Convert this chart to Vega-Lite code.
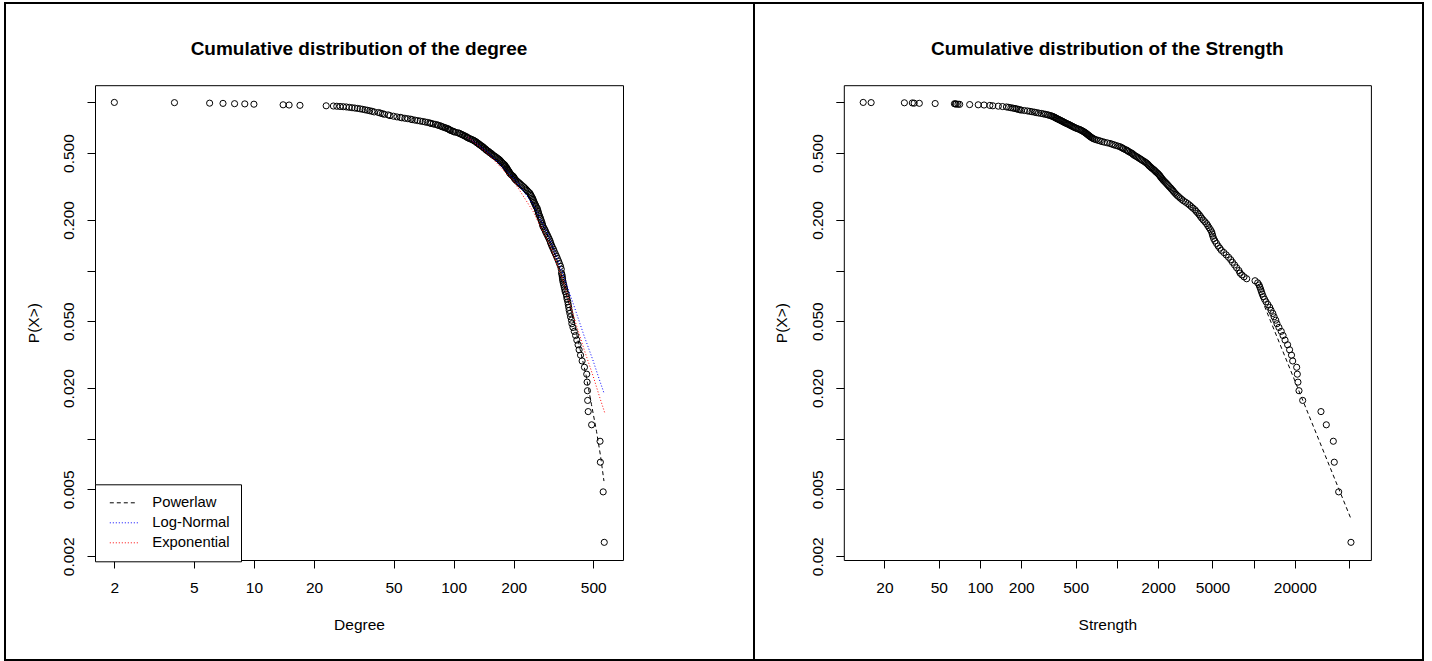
{
  "$schema": "https://vega.github.io/schema/vega-lite/v6.json",
  "background": "white",
  "padding": {"left": 4, "top": 2, "right": 0, "bottom": 0},
  "spacing": 0,
  "bounds": "flush",
  "config": {
    "view": {"stroke": "#000", "strokeWidth": 2},
    "font": "Liberation Sans",
    "axis": {
      "grid": false, "domainColor": "#000", "domainWidth": 1, "tickColor": "#000", "tickWidth": 1, "tickSize": 8,
      "labelColor": "#000", "labelFont": "Liberation Sans", "labelFontSize": 15.5, "titleFont": "Liberation Sans", "titleFontSize": 15.5,
      "titleFontWeight": "normal", "titleColor": "#000", "labelOverlap": false, "labelFlush": false, "labelBound": false
    }
  },
  "hconcat": [
    {
      "width": 749, "height": 657,
      "title": {"text": "Cumulative distribution of the degree", "fontSize": 19, "fontWeight": "bold", "font": "Liberation Sans", "color": "#000", "anchor": "middle", "frame": "group", "baseline": "alphabetic", "offset": -71, "dx": -20.5},
      "resolve": {"axis": {"x": "independent", "y": "independent"}},
      "layer": [
        {
          "data": {"values": [
            {"x":2,"p":1},{"x":4,"p":0.997},{"x":6,"p":0.99},{"x":7,"p":0.987},{"x":8,"p":0.983},{"x":9,"p":0.98},{"x":10,"p":0.976},{"x":14,"p":0.968},{"x":15,"p":0.965},{"x":17,"p":0.961},{"x":23,"p":0.955},
            {"x":25,"p":0.952},{"x":26,"p":0.949},{"x":27,"p":0.946},{"x":28,"p":0.943},{"x":29,"p":0.94},{"x":30,"p":0.935},{"x":31,"p":0.93},{"x":32,"p":0.926},{"x":33,"p":0.921},{"x":34,"p":0.916},{"x":35,"p":0.91},{"x":36,"p":0.904},{"x":37,"p":0.898},{"x":38,"p":0.892},{"x":39,"p":0.886},{"x":40,"p":0.878},{"x":42,"p":0.871},{"x":43,"p":0.864},{"x":44,"p":0.857},{"x":45,"p":0.85},{"x":47,"p":0.843},{"x":48,"p":0.835},{"x":50,"p":0.828},{"x":52,"p":0.82},
            {"x":54,"p":0.815},{"x":55,"p":0.81},{"x":57,"p":0.805},{"x":59,"p":0.8},{"x":61,"p":0.795},{"x":62,"p":0.79},{"x":64,"p":0.785},{"x":66,"p":0.78},{"x":68,"p":0.775},{"x":70,"p":0.77},{"x":72,"p":0.765},{"x":74,"p":0.76},{"x":76,"p":0.755},{"x":77,"p":0.75},{"x":79,"p":0.745},{"x":81,"p":0.74},{"x":83,"p":0.735},{"x":84,"p":0.73},{"x":86,"p":0.725},{"x":87,"p":0.72},{"x":88,"p":0.715},{"x":90,"p":0.71},{"x":91,"p":0.705},{"x":93,"p":0.7},{"x":94,"p":0.695},{"x":95,"p":0.69},{"x":96,"p":0.685},{"x":97,"p":0.68},{"x":99,"p":0.675},{"x":100,"p":0.67},
            {"x":102,"p":0.665},{"x":105,"p":0.66},{"x":107,"p":0.655},{"x":108,"p":0.65},{"x":110,"p":0.645},{"x":111,"p":0.64},{"x":113,"p":0.635},{"x":114,"p":0.63},{"x":116,"p":0.625},{"x":117,"p":0.62},{"x":118,"p":0.615},{"x":120,"p":0.61},{"x":122,"p":0.605},{"x":124,"p":0.6},{"x":126,"p":0.595},{"x":127,"p":0.59},{"x":129,"p":0.585},{"x":130,"p":0.58},{"x":131,"p":0.575},{"x":133,"p":0.57},{"x":134,"p":0.565},{"x":135,"p":0.56},{"x":137,"p":0.555},{"x":138,"p":0.55},{"x":140,"p":0.545},{"x":141,"p":0.54},{"x":142,"p":0.535},{"x":144,"p":0.53},{"x":145,"p":0.525},{"x":146,"p":0.52},{"x":148,"p":0.515},{"x":150,"p":0.51},{"x":151,"p":0.505},{"x":153,"p":0.5},{"x":155,"p":0.495},{"x":156,"p":0.49},{"x":158,"p":0.485},{"x":160,"p":0.48},{"x":162,"p":0.475},{"x":164,"p":0.47},{"x":166,"p":0.465},{"x":168,"p":0.46},{"x":170,"p":0.455},{"x":171,"p":0.45},{"x":173,"p":0.445},{"x":174,"p":0.44},{"x":176,"p":0.435},{"x":178,"p":0.43},{"x":180,"p":0.425},{"x":181,"p":0.42},{"x":182,"p":0.415},{"x":184,"p":0.41},{"x":185,"p":0.405},{"x":186,"p":0.4},{"x":187,"p":0.395},{"x":189,"p":0.39},{"x":190,"p":0.385},{"x":191,"p":0.38},{"x":193,"p":0.375},{"x":195,"p":0.37},{"x":198,"p":0.365},{"x":200,"p":0.36},{"x":201,"p":0.355},{"x":203,"p":0.35},
            {"x":205,"p":0.345},{"x":208,"p":0.34},{"x":211,"p":0.335},{"x":214,"p":0.33},{"x":217,"p":0.325},{"x":220,"p":0.32},{"x":224,"p":0.315},{"x":227,"p":0.31},{"x":230,"p":0.305},{"x":233,"p":0.3},{"x":236,"p":0.295},{"x":240,"p":0.29},{"x":242,"p":0.285},{"x":244,"p":0.28},{"x":246,"p":0.275},{"x":248,"p":0.27},{"x":250,"p":0.265},{"x":251,"p":0.26},{"x":253,"p":0.255},{"x":255,"p":0.25},{"x":257,"p":0.245},{"x":259,"p":0.24},{"x":262,"p":0.235},{"x":263,"p":0.23},{"x":265,"p":0.225},{"x":266,"p":0.22},{"x":268,"p":0.215},{"x":270,"p":0.21},{"x":272,"p":0.205},{"x":274,"p":0.2},{"x":276,"p":0.195},{"x":278,"p":0.19},{"x":279,"p":0.186},{"x":281,"p":0.182},{"x":284,"p":0.178},{"x":287,"p":0.174},{"x":289,"p":0.17},{"x":292,"p":0.166},{"x":295,"p":0.162},{"x":298,"p":0.158},{"x":301,"p":0.154},{"x":304,"p":0.15},{"x":306,"p":0.146},{"x":309,"p":0.142},{"x":312,"p":0.138},{"x":316,"p":0.134},{"x":319,"p":0.13},{"x":323,"p":0.126},{"x":327,"p":0.122},{"x":331,"p":0.118},{"x":335,"p":0.114},{"x":339,"p":0.11},{"x":343,"p":0.106},{"x":346,"p":0.102},
            {"x":347,"p":0.0966},{"x":349,"p":0.0942},{"x":350,"p":0.0918},{"x":351,"p":0.0894},{"x":352,"p":0.087},{"x":354,"p":0.0845},{"x":356,"p":0.0821},{"x":358,"p":0.0797},{"x":360,"p":0.0773},{"x":362,"p":0.0749},{"x":366,"p":0.0725},{"x":368,"p":0.07},{"x":370,"p":0.0676},{"x":373,"p":0.0652},{"x":375,"p":0.0628},{"x":377,"p":0.0604},{"x":379,"p":0.058},{"x":382,"p":0.0556},{"x":385,"p":0.0531},{"x":389,"p":0.0507},{"x":391,"p":0.0483},{"x":396,"p":0.0459},{"x":402,"p":0.0435},{"x":408,"p":0.0411},{"x":414,"p":0.0386},{"x":420,"p":0.0362},{"x":425,"p":0.0338},{"x":432,"p":0.0314},{"x":440,"p":0.029},{"x":452,"p":0.0266},{"x":464,"p":0.0242},{"x":466,"p":0.0217},{"x":468,"p":0.0193},{"x":469,"p":0.0169},{"x":472,"p":0.0145},{"x":491,"p":0.0121},{"x":541,"p":0.00966},{"x":543,"p":0.00725},{"x":561,"p":0.00483},{"x":568,"p":0.00242}
          ]},
          "mark": {"type": "point", "shape": "circle", "filled": false, "stroke": "#000", "strokeWidth": 1, "size": 38, "opacity": 1},
          "encoding": {
            "x": {"field": "x", "type": "quantitative",
              "scale": {"type": "log", "domain": [1.6, 705], "range": [90, 618], "nice": false, "zero": false},
              "axis": {"orient": "bottom", "offset": -100, "values": [2,5,10,20,50,100,200,500], "format": "d", "labelPadding": 12, "labelBaseline": "top", "title": "Degree", "titleY": 69, "titleBaseline": "alphabetic"}},
            "y": {"field": "p", "type": "quantitative",
              "scale": {"type": "log", "domain": [0.0019, 1.266], "range": [557, 82.2], "nice": false, "zero": false},
              "axis": {"orient": "left", "offset": -90, "values": [1,0.5,0.2,0.1,0.05,0.02,0.01,0.005,0.002],
                "labelExpr": "datum.value == 1 || datum.value == 0.1 || datum.value == 0.01 ? '' : format(datum.value, '.3f')",
                "labelAngle": 270, "labelAlign": "center", "labelBaseline": "alphabetic", "labelPadding": 13.5,
                "title": "P(X>)", "titleX": -57, "titleBaseline": "alphabetic", "titleAngle": 270, "titleAlign": "center"}}
          }
        },
        {
          "data": {"values": [
            {"model":"Powerlaw","x":118,"p":0.62},{"model":"Powerlaw","x":150,"p":0.5},{"model":"Powerlaw","x":200,"p":0.355},{"model":"Powerlaw","x":250,"p":0.25},{"model":"Powerlaw","x":300,"p":0.155},{"model":"Powerlaw","x":330,"p":0.115},{"model":"Powerlaw","x":350,"p":0.09},{"model":"Powerlaw","x":380,"p":0.062},{"model":"Powerlaw","x":400,"p":0.05},{"model":"Powerlaw","x":430,"p":0.034},{"model":"Powerlaw","x":460,"p":0.024},{"model":"Powerlaw","x":490,"p":0.016},{"model":"Powerlaw","x":520,"p":0.011},{"model":"Powerlaw","x":545,"p":0.0078},{"model":"Powerlaw","x":566,"p":0.0056},
            {"model":"Log-Normal","x":118,"p":0.62},{"model":"Log-Normal","x":150,"p":0.5},{"model":"Log-Normal","x":200,"p":0.355},{"model":"Log-Normal","x":250,"p":0.248},{"model":"Log-Normal","x":300,"p":0.16},{"model":"Log-Normal","x":350,"p":0.098},{"model":"Log-Normal","x":400,"p":0.062},{"model":"Log-Normal","x":450,"p":0.041},{"model":"Log-Normal","x":500,"p":0.029},{"model":"Log-Normal","x":540,"p":0.022},{"model":"Log-Normal","x":568,"p":0.0185},
            {"model":"Exponential","x":118,"p":0.62},{"model":"Exponential","x":150,"p":0.49},{"model":"Exponential","x":200,"p":0.34},{"model":"Exponential","x":250,"p":0.225},{"model":"Exponential","x":300,"p":0.145},{"model":"Exponential","x":350,"p":0.09},{"model":"Exponential","x":400,"p":0.053},{"model":"Exponential","x":450,"p":0.034},{"model":"Exponential","x":500,"p":0.0235},{"model":"Exponential","x":540,"p":0.0175},{"model":"Exponential","x":573,"p":0.0141}
          ]},
          "mark": {"type": "line", "strokeWidth": 1},
          "encoding": {
            "x": {"field": "x", "type": "quantitative", "axis": {"orient": "top", "offset": -82.2, "ticks": false, "labels": false, "title": null, "grid": false}},
            "y": {"field": "p", "type": "quantitative", "axis": {"orient": "right", "offset": -131, "ticks": false, "labels": false, "title": null, "grid": false}},
            "color": {"field": "model", "type": "nominal",
              "scale": {"domain": ["Powerlaw","Log-Normal","Exponential"], "range": ["#000000","#0000ff","#ff0000"]},
              "legend": {"title": null, "orient": "none", "legendX": 90, "legendY": 481.3, "padding": 11, "strokeColor": "#000", "fillColor": "#fff", "cornerRadius": 0,
                "symbolType": "M-2,0H2", "symbolSize": 196, "symbolStrokeWidth": 1, "symbolOffset": 10.3, "labelFont": "Liberation Sans", "labelFontSize": 14.8, "labelColor": "#000", "labelOffset": 21, "rowPadding": 4}},
            "strokeDash": {"field": "model", "type": "nominal",
              "scale": {"domain": ["Powerlaw","Log-Normal","Exponential"], "range": [[4,3],[1,2],[1,2]]},
              "legend": {"title": null, "orient": "none", "legendX": 90, "legendY": 481.3, "padding": 11, "strokeColor": "#000", "fillColor": "#fff", "cornerRadius": 0,
                "symbolType": "M-2,0H2", "symbolSize": 196, "symbolStrokeWidth": 1, "symbolOffset": 10.3, "labelFont": "Liberation Sans", "labelFontSize": 14.8, "labelColor": "#000", "labelOffset": 21, "rowPadding": 4}}
          }
        }
      ]
    },
    {
      "width": 669, "height": 657,
      "title": {"text": "Cumulative distribution of the Strength", "fontSize": 19, "fontWeight": "bold", "font": "Liberation Sans", "color": "#000", "anchor": "middle", "frame": "group", "baseline": "alphabetic", "offset": -71, "dx": 18.85},
      "resolve": {"axis": {"x": "independent", "y": "independent"}},
      "layer": [
        {
          "data": {"values": [
            {"x":14,"p":1},{"x":16,"p":0.9976},{"x":28,"p":0.995},{"x":32,"p":0.993},{"x":33,"p":0.99},{"x":36,"p":0.988},{"x":47,"p":0.985},{"x":65,"p":0.982},{"x":66,"p":0.98},{"x":67,"p":0.978},{"x":69,"p":0.976},{"x":71,"p":0.974},{"x":84,"p":0.971},{"x":97,"p":0.968},{"x":107,"p":0.965},{"x":118,"p":0.96},{"x":124,"p":0.955},{"x":136,"p":0.95},{"x":146,"p":0.945},{"x":156,"p":0.94},{"x":162,"p":0.935},{"x":168,"p":0.93},{"x":174,"p":0.925},{"x":180,"p":0.92},{"x":185,"p":0.915},{"x":190,"p":0.91},{"x":195,"p":0.905},{"x":200,"p":0.9},
            {"x":211,"p":0.895},{"x":222,"p":0.89},{"x":231,"p":0.885},{"x":240,"p":0.88},{"x":250,"p":0.875},{"x":258,"p":0.87},{"x":268,"p":0.865},{"x":280,"p":0.86},{"x":290,"p":0.855},{"x":300,"p":0.85},{"x":310,"p":0.845},{"x":318,"p":0.84},{"x":327,"p":0.835},{"x":334,"p":0.83},{"x":340,"p":0.825},{"x":346,"p":0.82},{"x":351,"p":0.815},{"x":356,"p":0.81},{"x":361,"p":0.805},{"x":366,"p":0.8},{"x":372,"p":0.795},{"x":378,"p":0.79},{"x":384,"p":0.785},{"x":390,"p":0.78},{"x":396,"p":0.775},{"x":402,"p":0.77},{"x":408,"p":0.765},{"x":414,"p":0.76},{"x":421,"p":0.755},{"x":428,"p":0.75},{"x":436,"p":0.745},{"x":444,"p":0.74},{"x":452,"p":0.735},{"x":458,"p":0.73},{"x":466,"p":0.725},{"x":474,"p":0.72},{"x":482,"p":0.715},{"x":490,"p":0.71},{"x":500,"p":0.705},{"x":510,"p":0.7},{"x":522,"p":0.695},{"x":535,"p":0.69},{"x":545,"p":0.685},{"x":553,"p":0.68},{"x":563,"p":0.675},{"x":572,"p":0.67},{"x":580,"p":0.665},{"x":588,"p":0.66},{"x":596,"p":0.655},{"x":603,"p":0.65},{"x":610,"p":0.645},{"x":617,"p":0.64},{"x":625,"p":0.635},{"x":632,"p":0.63},{"x":640,"p":0.625},{"x":650,"p":0.62},{"x":660,"p":0.615},{"x":670,"p":0.61},{"x":685,"p":0.605},{"x":705,"p":0.6},{"x":730,"p":0.595},{"x":755,"p":0.59},{"x":780,"p":0.585},{"x":810,"p":0.58},{"x":850,"p":0.575},{"x":890,"p":0.57},{"x":920,"p":0.565},{"x":950,"p":0.56},{"x":980,"p":0.555},{"x":1020,"p":0.55},{"x":1054,"p":0.545},{"x":1080,"p":0.54},{"x":1100,"p":0.535},{"x":1120,"p":0.53},{"x":1150,"p":0.525},{"x":1180,"p":0.52},{"x":1200,"p":0.515},{"x":1220,"p":0.51},{"x":1250,"p":0.505},{"x":1280,"p":0.5},{"x":1300,"p":0.495},{"x":1320,"p":0.49},{"x":1340,"p":0.485},{"x":1370,"p":0.48},{"x":1400,"p":0.475},{"x":1430,"p":0.47},{"x":1460,"p":0.465},{"x":1490,"p":0.46},{"x":1520,"p":0.455},{"x":1550,"p":0.45},{"x":1590,"p":0.445},{"x":1620,"p":0.44},{"x":1650,"p":0.435},{"x":1680,"p":0.43},{"x":1700,"p":0.425},{"x":1720,"p":0.42},{"x":1750,"p":0.415},{"x":1780,"p":0.41},{"x":1810,"p":0.405},{"x":1850,"p":0.4},{"x":1880,"p":0.395},{"x":1910,"p":0.39},{"x":1940,"p":0.385},{"x":1980,"p":0.38},{"x":2010,"p":0.375},{"x":2040,"p":0.37},
            {"x":2070,"p":0.365},{"x":2090,"p":0.36},{"x":2120,"p":0.355},{"x":2150,"p":0.35},{"x":2180,"p":0.345},{"x":2220,"p":0.34},{"x":2260,"p":0.335},{"x":2300,"p":0.33},{"x":2340,"p":0.325},{"x":2380,"p":0.32},{"x":2420,"p":0.315},{"x":2470,"p":0.31},{"x":2510,"p":0.305},{"x":2560,"p":0.3},{"x":2600,"p":0.295},{"x":2650,"p":0.29},{"x":2700,"p":0.285},{"x":2760,"p":0.28},{"x":2830,"p":0.275},{"x":2900,"p":0.27},{"x":2980,"p":0.265},{"x":3070,"p":0.26},{"x":3180,"p":0.255},{"x":3300,"p":0.25},{"x":3400,"p":0.245},{"x":3500,"p":0.24},{"x":3600,"p":0.235},{"x":3720,"p":0.23},{"x":3800,"p":0.225},{"x":3900,"p":0.22},{"x":4000,"p":0.215},{"x":4080,"p":0.21},{"x":4170,"p":0.205},{"x":4280,"p":0.2},{"x":4400,"p":0.195},{"x":4530,"p":0.19},{"x":4620,"p":0.185},{"x":4720,"p":0.18},{"x":4830,"p":0.175},{"x":4930,"p":0.17},{"x":4980,"p":0.165},{"x":5030,"p":0.16},{"x":5100,"p":0.155},{"x":5210,"p":0.15},{"x":5350,"p":0.145},{"x":5500,"p":0.14},{"x":5650,"p":0.136},{"x":5800,"p":0.132},{"x":6050,"p":0.128},{"x":6300,"p":0.124},{"x":6550,"p":0.12},{"x":6800,"p":0.116},{"x":7000,"p":0.112},{"x":7250,"p":0.108},{"x":7500,"p":0.104},{"x":7800,"p":0.1},
            {"x":7950,"p":0.0966},{"x":8200,"p":0.0942},{"x":8500,"p":0.0918},{"x":8890,"p":0.0894},{"x":10230,"p":0.087},{"x":10700,"p":0.0845},{"x":10950,"p":0.0821},{"x":11100,"p":0.0797},{"x":11250,"p":0.0773},{"x":11400,"p":0.0749},{"x":11550,"p":0.0725},{"x":11750,"p":0.07},{"x":12000,"p":0.0676},{"x":12300,"p":0.0652},{"x":12700,"p":0.0628},{"x":13100,"p":0.0604},{"x":13400,"p":0.058},{"x":13800,"p":0.0556},{"x":14100,"p":0.0531},{"x":14500,"p":0.0507},{"x":14800,"p":0.0483},{"x":15300,"p":0.0459},{"x":15900,"p":0.0435},{"x":16400,"p":0.0411},{"x":16950,"p":0.0386},{"x":17700,"p":0.0362},{"x":18300,"p":0.0338},{"x":18900,"p":0.0314},{"x":19280,"p":0.029},{"x":20620,"p":0.0266},{"x":20840,"p":0.0242},{"x":21070,"p":0.0217},{"x":21440,"p":0.0193},{"x":22810,"p":0.0169},{"x":31030,"p":0.0145},{"x":33950,"p":0.0121},{"x":38200,"p":0.00966},{"x":38820,"p":0.00725},{"x":41800,"p":0.00483},{"x":51400,"p":0.00242}
          ]},
          "mark": {"type": "point", "shape": "circle", "filled": false, "stroke": "#000", "strokeWidth": 1, "size": 38, "opacity": 1},
          "encoding": {
            "x": {"field": "x", "type": "quantitative",
              "scale": {"type": "log", "domain": [10.1, 71900], "range": [89.8, 616.9], "nice": false, "zero": false},
              "axis": {"orient": "bottom", "offset": -100, "values": [20,50,100,200,500,1000,2000,5000,10000,20000,50000],
                "labelExpr": "datum.value == 1000 || datum.value == 10000 || datum.value == 50000 ? '' : format(datum.value, 'd')",
                "labelPadding": 12, "labelBaseline": "top", "title": "Strength", "titleY": 69, "titleBaseline": "alphabetic"}},
            "y": {"field": "p", "type": "quantitative",
              "scale": {"type": "log", "domain": [0.0019, 1.266], "range": [557, 82.2], "nice": false, "zero": false},
              "axis": {"orient": "left", "offset": -89.8, "values": [1,0.5,0.2,0.1,0.05,0.02,0.01,0.005,0.002],
                "labelExpr": "datum.value == 1 || datum.value == 0.1 || datum.value == 0.01 ? '' : format(datum.value, '.3f')",
                "labelAngle": 270, "labelAlign": "center", "labelBaseline": "alphabetic", "labelPadding": 13.5,
                "title": "P(X>)", "titleX": -57, "titleBaseline": "alphabetic", "titleAngle": 270, "titleAlign": "center"}}
          }
        },
        {
          "data": {"values": [
            {"model":"Powerlaw","x":12000,"p":0.0614},{"model":"Powerlaw","x":51400,"p":0.00334}
          ]},
          "mark": {"type": "line", "strokeWidth": 1, "stroke": "#000", "strokeDash": [4,3]},
          "encoding": {
            "x": {"field": "x", "type": "quantitative", "axis": {"orient": "top", "offset": -82.2, "ticks": false, "labels": false, "title": null, "grid": false}},
            "y": {"field": "p", "type": "quantitative", "axis": {"orient": "right", "offset": -52.1, "ticks": false, "labels": false, "title": null, "grid": false}}
          }
        }
      ]
    }
  ]
}
